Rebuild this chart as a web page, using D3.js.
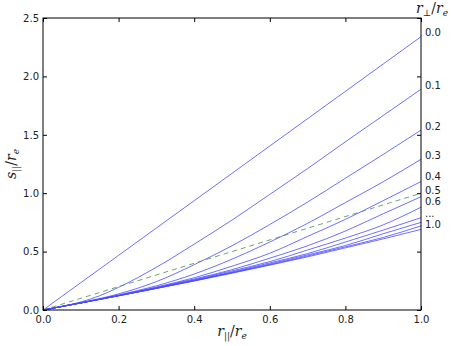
<!DOCTYPE html>
<html><head><meta charset="utf-8">
<script src="https://cdn.jsdelivr.net/npm/d3@7"></script>
<style>body{margin:0;background:#fff}svg{display:block}</style>
</head><body>
<svg id="c" width="451" height="346"></svg>
<script>
const xs = [0, 0.05, 0.1, 0.15, 0.2, 0.3, 0.4, 0.5, 0.6, 0.7, 0.8, 0.9, 1.0];
const rPerp = [0.0, 0.1, 0.2, 0.3, 0.4, 0.5, 0.6, 0.7, 0.8, 0.9, 1.0];
const sPar = [
  [0, 0.117, 0.234, 0.351, 0.468, 0.702, 0.936, 1.170, 1.404, 1.638, 1.872, 2.106, 2.340],
  [0, 0.032, 0.069, 0.122, 0.194, 0.366, 0.564, 0.770, 0.990, 1.211, 1.440, 1.665, 1.890],
  [0, 0.031, 0.063, 0.098, 0.138, 0.243, 0.388, 0.550, 0.732, 0.924, 1.128, 1.332, 1.540],
  [0, 0.030, 0.062, 0.094, 0.129, 0.207, 0.308, 0.435, 0.582, 0.742, 0.920, 1.098, 1.290],
  [0, 0.030, 0.061, 0.093, 0.126, 0.197, 0.276, 0.375, 0.486, 0.630, 0.776, 0.936, 1.100],
  [0, 0.030, 0.061, 0.092, 0.124, 0.192, 0.266, 0.345, 0.444, 0.550, 0.676, 0.824, 0.970],
  [0, 0.030, 0.061, 0.092, 0.123, 0.189, 0.259, 0.335, 0.414, 0.514, 0.616, 0.729, 0.880],
  [0, 0.030, 0.060, 0.091, 0.123, 0.187, 0.255, 0.326, 0.403, 0.483, 0.582, 0.684, 0.790],
  [0, 0.030, 0.060, 0.091, 0.122, 0.186, 0.252, 0.321, 0.394, 0.472, 0.552, 0.653, 0.750],
  [0, 0.030, 0.060, 0.091, 0.122, 0.185, 0.250, 0.318, 0.388, 0.463, 0.541, 0.621, 0.720],
  [0, 0.030, 0.060, 0.091, 0.122, 0.1845, 0.248, 0.315, 0.384, 0.455, 0.532, 0.609, 0.690]
];
const refX = [0, 1];
const refY = [0, 1];
const xTicks = [0, 0.2, 0.4, 0.6, 0.8, 1.0];
const yTicks = [0, 0.5, 1.0, 1.5, 2.0, 2.5];
const sideLabels = ["0.0", "0.1", "0.2", "0.3", "0.4", "0.5", "0.6", "...", "1.0"];
const sideLabelY = [2.38, 1.918, 1.567, 1.327, 1.139, 1.019, 0.925, 0.830, 0.736];

const W = 451, H = 346;
const m = {l: 43, r: 30, t: 18, b: 36};
const svg = d3.select("#c");
const x = d3.scaleLinear().domain([0, 1]).range([m.l, W - m.r]);
const y = d3.scaleLinear().domain([0, 2.5]).range([H - m.b, m.t]);

const line = d3.line().x(d => x(d[0])).y(d => y(d[1])).curve(d3.curveMonotoneX);
const g = svg.append("g");
sPar.forEach(vals => {
  g.append("path")
    .attr("d", line(xs.map((v, i) => [v, vals[i]])))
    .attr("fill", "none").attr("stroke", "#4a4aff").attr("stroke-width", 0.8);
});
g.append("path")
  .attr("d", line(refX.map((v, i) => [v, refY[i]])))
  .attr("fill", "none").attr("stroke", "#5f9a5f").attr("stroke-width", 0.9)
  .attr("stroke-dasharray", "5,4");

const font = "DejaVu Sans, sans-serif";
function styleAxis(sel) {
  sel.select(".domain").remove();
  sel.selectAll(".tick line").attr("stroke", "#000");
  sel.selectAll(".tick text").attr("font-family", font).attr("font-size", 10).attr("fill", "#222");
}
svg.append("g").attr("transform", `translate(0,${H - m.b})`)
  .call(d3.axisBottom(x).tickValues(xTicks).tickSize(-4).tickPadding(6).tickFormat(d3.format(".1f")))
  .call(styleAxis);
svg.append("g").attr("transform", `translate(0,${m.t})`)
  .call(d3.axisTop(x).tickValues(xTicks).tickSize(-4).tickFormat(""))
  .call(styleAxis);
svg.append("g").attr("transform", `translate(${m.l},0)`)
  .call(d3.axisLeft(y).tickValues(yTicks).tickSize(-4).tickPadding(4).tickFormat(d3.format(".1f")))
  .call(styleAxis);
svg.append("g").attr("transform", `translate(${W - m.r},0)`)
  .call(d3.axisRight(y).tickValues(yTicks).tickSize(-4).tickFormat(""))
  .call(styleAxis);

svg.append("rect").attr("x", m.l).attr("y", m.t)
  .attr("width", W - m.l - m.r).attr("height", H - m.t - m.b)
  .attr("fill", "none").attr("stroke", "#000").attr("stroke-width", 1);

svg.append("g").selectAll("text").data(sideLabels).join("text")
  .attr("x", W - m.r + 4)
  .attr("y", (d, i) => y(sideLabelY[i]))
  .attr("dy", "0.35em")
  .attr("font-family", font).attr("font-size", 10).attr("fill", "#222")
  .text(d => d);

const mathFont = "DejaVu Serif, serif";
function mathLabel(sel, base, sub1, sub2) {
  sel.attr("font-family", mathFont).attr("font-style", "italic").attr("font-size", 14).attr("fill", "#222");
  sel.append("tspan").text(base);
  sel.append("tspan").attr("font-size", 9).attr("dy", 3).attr("font-style", "normal").text(sub1);
  sel.append("tspan").attr("dy", -3).attr("font-style", "normal").text("/");
  sel.append("tspan").text("r");
  sel.append("tspan").attr("font-size", 9).attr("dy", 3).text(sub2);
}
svg.append("text").attr("x", x(0.5)).attr("y", 336).attr("text-anchor", "middle")
  .call(mathLabel, "r", "||", "e");
svg.append("text").attr("transform", `translate(16,${y(1.25)}) rotate(-90)`).attr("text-anchor", "middle")
  .call(mathLabel, "s", "||", "e");
svg.append("text").attr("x", 432).attr("y", 13).attr("text-anchor", "middle")
  .call(mathLabel, "r", "⊥", "e");
</script>
</body></html>
